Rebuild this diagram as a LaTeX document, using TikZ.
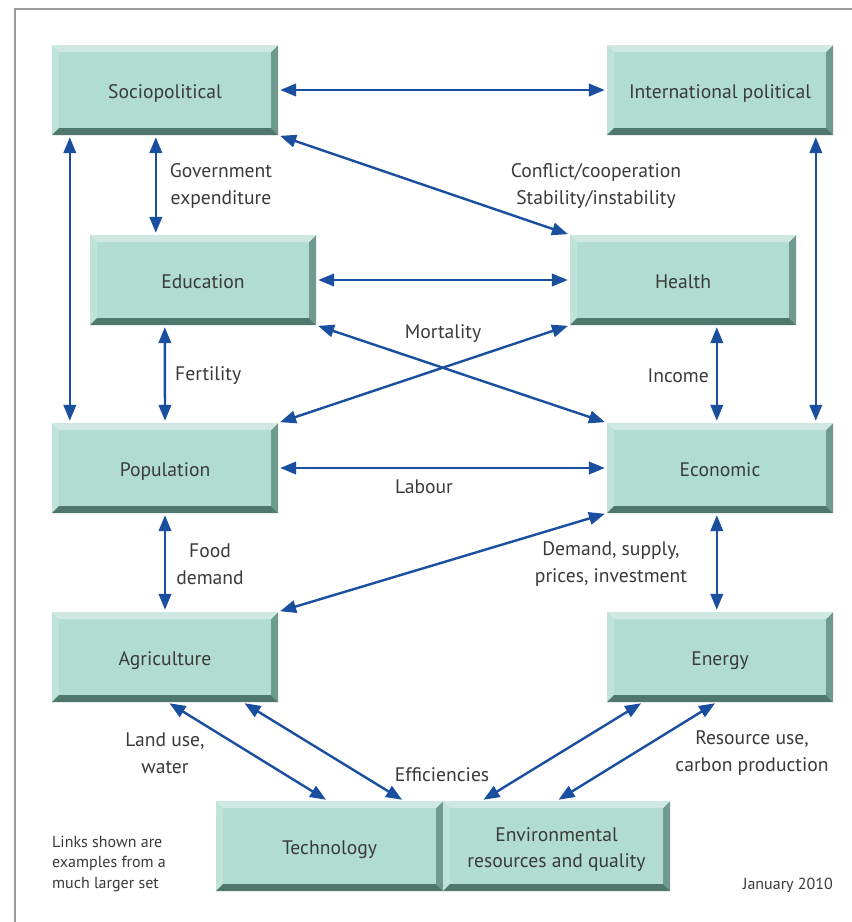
\documentclass[tikz,border=0pt]{standalone}
\usepackage{fontspec}
\setmainfont{PT Sans}
\usetikzlibrary{arrows.meta}
\definecolor{face}{HTML}{B1DDD1}
\definecolor{bevtop}{HTML}{CFE8E1}
\definecolor{bevleft}{HTML}{C0E3D9}
\definecolor{bevright}{HTML}{6F9A8E}
\definecolor{bevbot}{HTML}{4F776B}
\definecolor{arrowc}{HTML}{1A4FA0}
\definecolor{txt}{HTML}{3A3A3A}
\definecolor{framec}{HTML}{9A9A9A}
\newcommand\boxfont{\fontsize{19.6}{26.5}\selectfont}
\newcommand\smallfnt{\fontsize{16}{20.5}\selectfont}
\newcommand\lowline[1]{\raisebox{-3.5pt}[\height][\depth]{#1}}
\tikzset{
  bev/.style={rectangle, inner sep=0pt, minimum width=226pt, minimum height=90pt,
    fill=face, text=txt, font=\boxfont, align=center,
    path picture={
      \fill[bevleft] (path picture bounding box.north west) -- (path picture bounding box.south west)
        -- ([xshift=7pt,yshift=7pt]path picture bounding box.south west)
        -- ([xshift=7pt,yshift=-7pt]path picture bounding box.north west) -- cycle;
      \fill[bevright] (path picture bounding box.north east) -- (path picture bounding box.south east)
        -- ([xshift=-7pt,yshift=7pt]path picture bounding box.south east)
        -- ([xshift=-7pt,yshift=-7pt]path picture bounding box.north east) -- cycle;
      \fill[bevtop] (path picture bounding box.north west) -- (path picture bounding box.north east)
        -- ([xshift=-7pt,yshift=-7pt]path picture bounding box.north east)
        -- ([xshift=7pt,yshift=-7pt]path picture bounding box.north west) -- cycle;
      \fill[bevbot] (path picture bounding box.south west) -- (path picture bounding box.south east)
        -- ([xshift=-7pt,yshift=7pt]path picture bounding box.south east)
        -- ([xshift=7pt,yshift=7pt]path picture bounding box.south west) -- cycle;
    }},
  oneline/.style={text height=17pt, text depth=0pt},
  link/.style={draw=arrowc, line width=2.4pt,
    {Triangle[length=16pt,width=12.5pt]}-{Triangle[length=16pt,width=12.5pt]},
    shorten <=2pt, shorten >=2pt},
  lbl/.style={text=txt, font=\boxfont, inner sep=0pt},
  note/.style={text=txt, font=\smallfnt, inner sep=0pt},
}
\begin{document}
\begin{tikzpicture}[x=1pt,y=-1pt]
\useasboundingbox (0,0) rectangle (852,922);
\fill[white] (0,0) rectangle (852,922);
\draw[framec, line width=1.5pt] (852,9) -- (15,9) -- (15,922);

\node[bev, oneline] (soc) at (165,90) {Sociopolitical};
\node[bev, oneline] (int) at (720,90) {International political};
\node[bev, oneline] (edu) at (203,280) {Education};
\node[bev, oneline] (hea) at (683,280) {Health};
\node[bev, oneline] (pop) at (165,468) {Population};
\node[bev, oneline] (eco) at (720,468) {Economic};
\node[bev, oneline] (agr) at (165,657) {Agriculture};
\node[bev, oneline] (ene) at (720,657) {Energy};
\node[bev, oneline, minimum width=227pt] (tec) at (329.5,846) {Technology};
\node[bev, minimum width=227pt] (env) at (556.5,846) {\lowline{Environmental}\\\lowline{resources and quality}};

\draw[link] (soc.east) -- (int.west);
\draw[link] ([xshift=18pt]soc.south west) -- ([xshift=18pt]pop.north west);
\draw[link] ([xshift=104pt]soc.south west) -- ([xshift=66pt]edu.north west);
\draw[link] (soc.south east) -- (hea.north west);
\draw[link] ([xshift=209pt]int.south west) -- ([xshift=209pt]eco.north west);
\draw[link] (edu.east) -- (hea.west);
\draw[link] ([xshift=75pt]edu.south west) -- (pop.north);
\draw[link] (edu.south east) -- (eco.north west);
\draw[link] (hea.south west) -- (pop.north east);
\draw[link] ([xshift=147pt]hea.south west) -- ([xshift=110pt]eco.north west);
\draw[link] (pop.east) -- (eco.west);
\draw[link] (pop.south) -- (agr.north);
\draw[link] (eco.south west) -- (agr.north east);
\draw[link] ([xshift=110pt]eco.south west) -- ([xshift=110pt]ene.north west);
\draw[link] ([xshift=116pt]agr.south west) -- ([xshift=112pt]tec.north west);
\draw[link] ([xshift=191pt]agr.south west) -- ([xshift=188pt]tec.north west);
\draw[link] ([xshift=36pt]ene.south west) -- ([xshift=39pt]env.north west);
\draw[link] ([xshift=110pt]ene.south west) -- ([xshift=114pt]env.north west);

\node[lbl, align=center] (lgov) at (221,186) {Government\\expenditure};
\node[lbl, align=center] (lcon) at (596,186) {Conflict/cooperation\\Stability/instability};
\node[lbl] (lmor) at (443,334) {Mortality};
\node[lbl, anchor=west] (lfer) at (175,376) {Fertility};
\node[lbl, anchor=east] (linc) at (709,376) {Income};
\node[lbl] (llab) at (424,487) {Labour};
\node[lbl, align=center] (lfood) at (210,564) {Food\\demand};
\node[lbl, align=center] (ldem) at (611,564) {Demand, supply,\\prices, investment};
\node[lbl, align=center] (lland) at (165,753) {Land use,\\water};
\node[lbl] (leff) at (442,775) {Efficiencies};
\node[lbl, align=center] (lres) at (752,753) {Resource use,\\carbon production};
\node[note, anchor=west, align=left] (lnote) at (52,864) {Links shown are\\examples from a\\much larger set};
\node[note, anchor=east] (ldate) at (833,885) {January 2010};
\end{tikzpicture}
\end{document}
